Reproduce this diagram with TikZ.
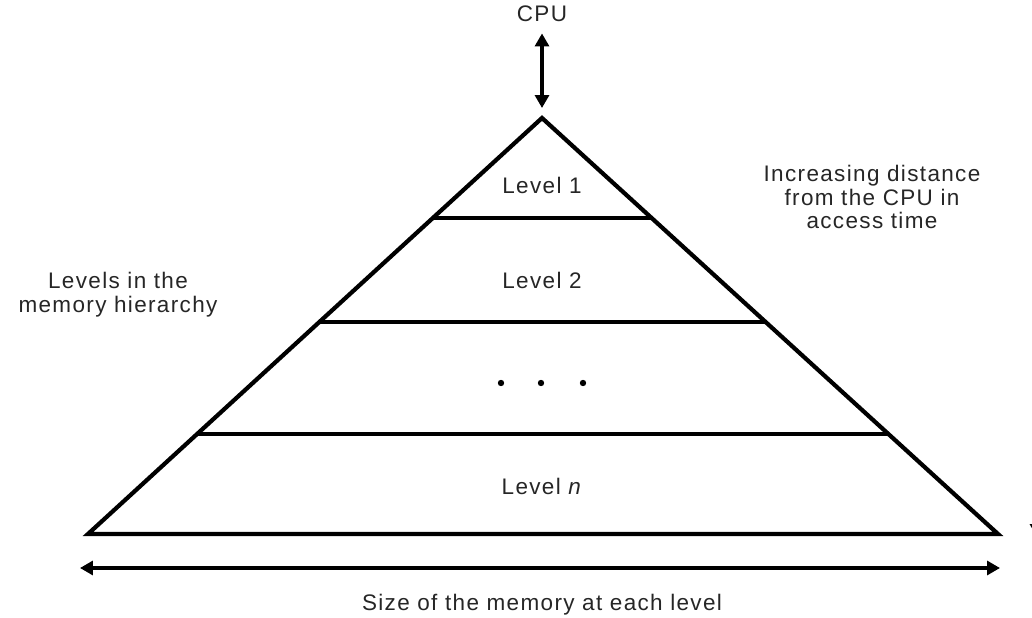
\documentclass[tikz,border=0pt]{standalone}
\usepackage{fontspec}
\setmainfont[LetterSpace=6]{Liberation Sans}
\usetikzlibrary{positioning,calc,arrows.meta}

\begin{document}
\begin{tikzpicture}[x=0.02cm, y=-0.02cm,
    every node/.style={font=\fontsize{12.8}{13.6}\selectfont, text=black!85},
    edge/.style={line width=2.4pt, line join=miter},
    link/.style={{Triangle[length=0.26cm, width=0.28cm]}-{Triangle[length=0.26cm, width=0.28cm]}, line width=1.8pt}]

    \useasboundingbox (0,0) rectangle (1032,618);

    % --- pyramid ---
    \coordinate (apex) at (542,118);
    \coordinate (bl) at (88,534);
    \coordinate (br) at (998,534);
    \draw[edge] (apex) -- (br) -- (bl) -- cycle;

    % level boundaries
    \foreach \y [count=\i] in {218,322,434} {
        \pgfmathsetmacro{\hw}{(\y-118)/416*454}
        \coordinate (cutl\i) at (542-\hw,\y);
        \coordinate (cutr\i) at (542+\hw,\y);
        \draw[edge] (cutl\i) -- (cutr\i);
    }

    % level labels
    \node (lvone) at (542,185) {Level 1};
    \node (lvtwo) at (542,280) {Level 2};
    \foreach \x in {501,541,583}
        \fill (\x,383) circle (3.2);
    \node (lvn) at (542,486) {Level \textit{n}};

    % --- CPU ---
    \node (cpu) at (542,14) {CPU};
    \draw[link, shorten <=3pt, shorten >=0.2cm] (cpu.south) -- (apex);

    % side texts
    \node[align=center] (levels) at (118,295) {Levels in the\\memory hierarchy};
    \node[align=center] (dist) at (872,197) {Increasing distance\\from the CPU in\\access time};

    % size arrow
    \coordinate (sizel) at (80,568);
    \coordinate (sizer) at (1000,568);
    \draw[link] (sizel) -- (sizer);
    \node (size) at (542,605) {Size of the memory at each level};

    % clipped arrow at the right edge
    \coordinate (downtop) at (1037,440);
    \coordinate (downend) at (1037,537);
    \draw[-{Triangle[length=0.26cm, width=0.28cm]}, line width=1.8pt] (downtop) -- (downend);

\end{tikzpicture}
\end{document}
